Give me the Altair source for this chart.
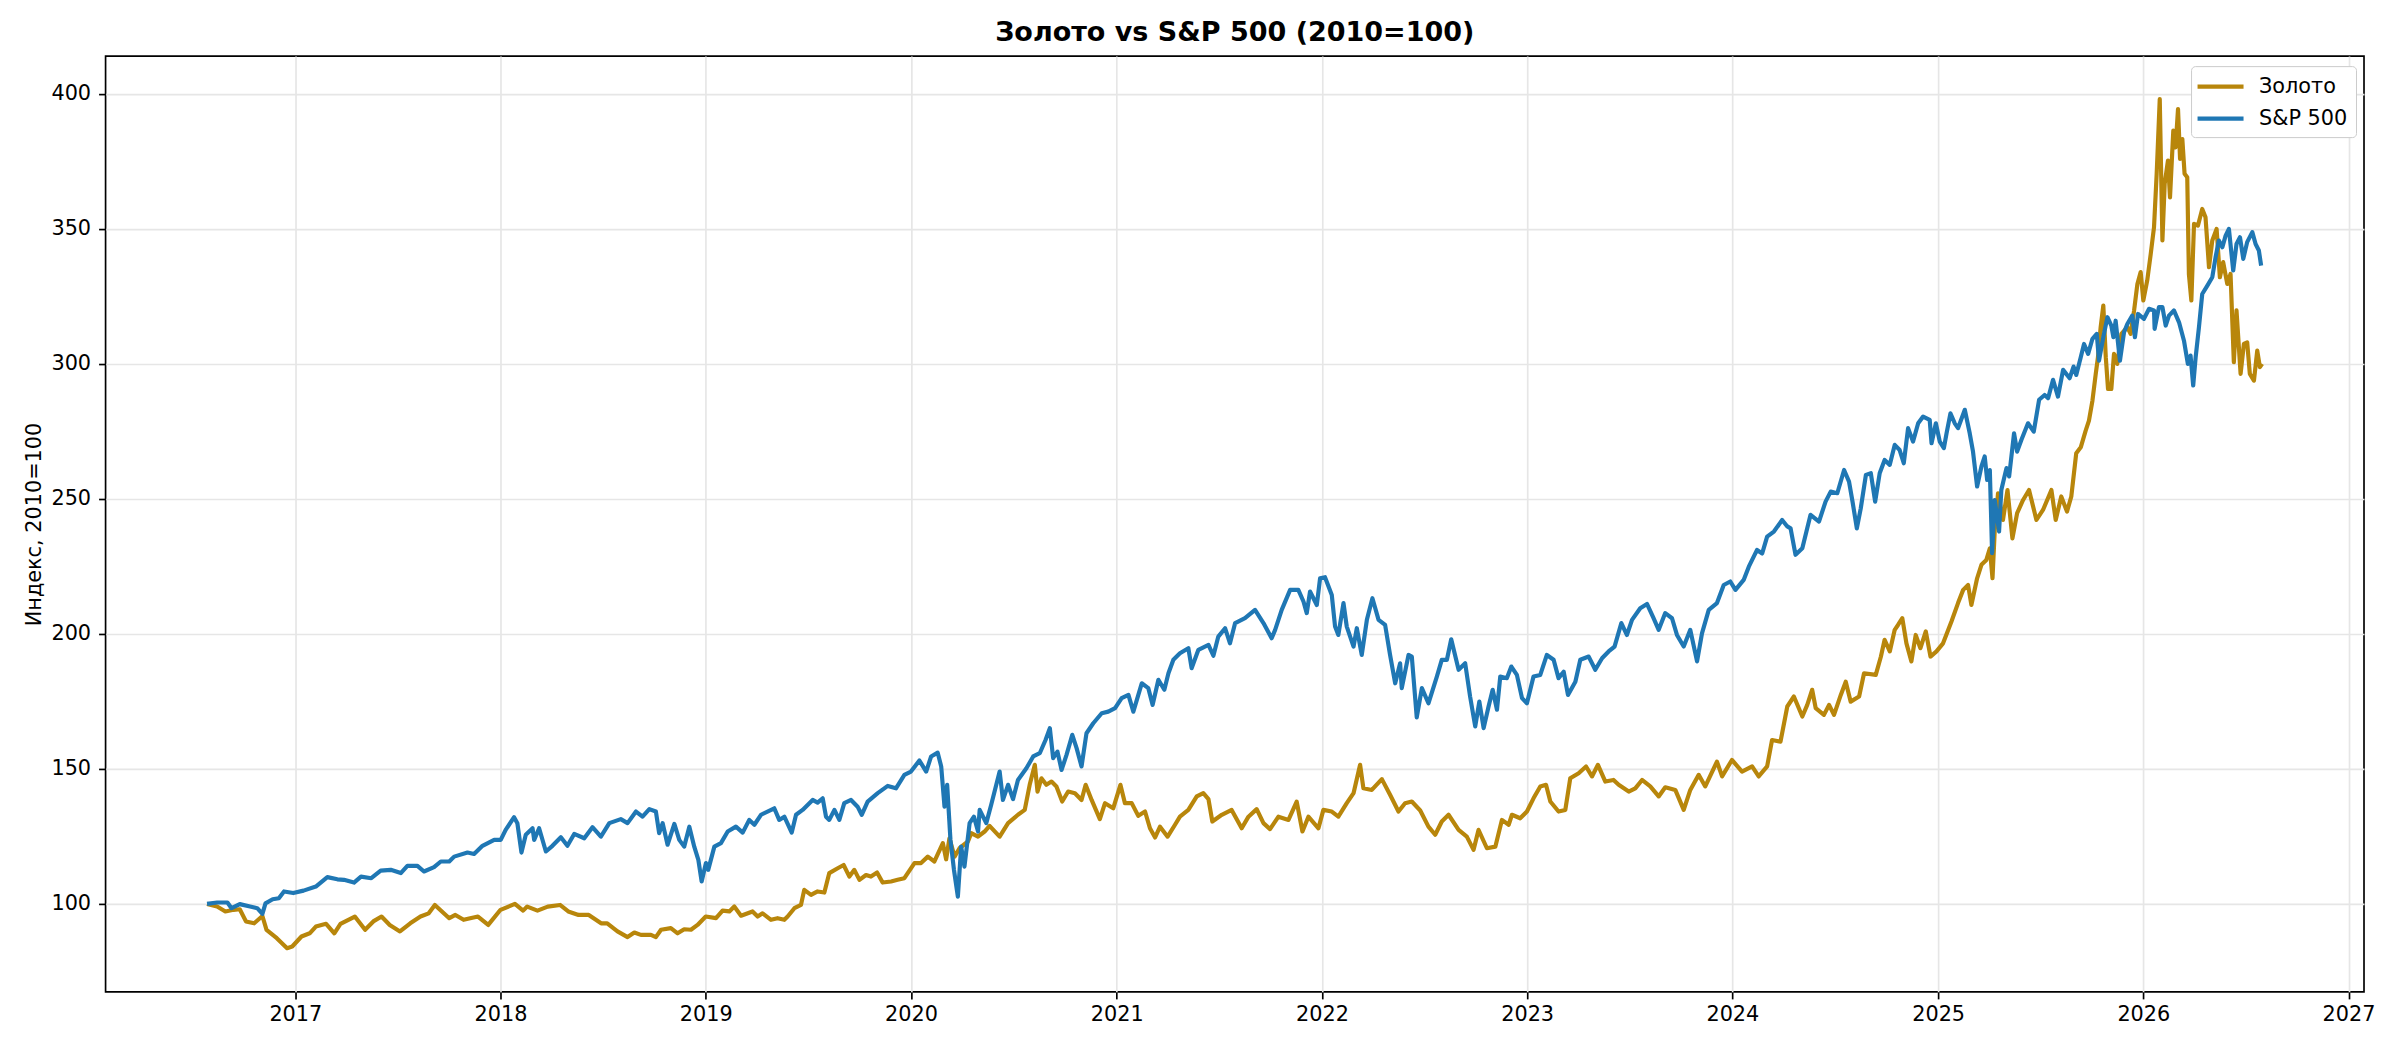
import datetime as dt
import altair as alt
import pandas as pd

TITLE = "Золото vs S&P 500 (2010=100)"
Y_TITLE = "Индекс, 2010=100"
SERIES = ["Золото", "S&P 500"]
COLORS = ["#B8860B", "#1f77b4"]
Y_TICKS = [100, 150, 200, 250, 300, 350, 400]
YEAR_TICKS = list(range(2017, 2028))

# (decimal year, index value)
gold_points = [
    (2016.571, 100.0), (2016.62, 99.0), (2016.66, 97.2), (2016.70, 97.8), (2016.73, 98.0), (2016.76, 93.5),
    (2016.80, 92.8), (2016.84, 95.5), (2016.86, 90.4), (2016.91, 87.3), (2016.96, 83.6), (2016.985, 84.2),
    (2017.03, 87.9), (2017.07, 89.1), (2017.10, 91.6), (2017.15, 92.6), (2017.19, 89.1), (2017.22, 92.6),
    (2017.29, 95.3), (2017.34, 90.4), (2017.38, 93.5), (2017.42, 95.3), (2017.46, 92.2), (2017.51, 89.8),
    (2017.56, 92.8), (2017.61, 95.3), (2017.65, 96.5), (2017.68, 99.6), (2017.75, 94.7), (2017.78, 95.9),
    (2017.82, 94.1), (2017.89, 95.3), (2017.94, 92.2), (2018.00, 97.8), (2018.07, 100.0), (2018.11, 97.5),
    (2018.13, 99.0), (2018.18, 97.5), (2018.23, 99.0), (2018.29, 99.6), (2018.33, 97.2), (2018.38, 95.9),
    (2018.43, 95.9), (2018.49, 92.8), (2018.52, 92.8), (2018.57, 89.8),
    (2018.619, 87.7), (2018.652, 89.4), (2018.684, 88.5), (2018.733, 88.5), (2018.757, 87.7), (2018.782, 90.4),
    (2018.83, 91.0), (2018.863, 89.1), (2018.895, 90.6), (2018.928, 90.4), (2018.96, 92.2), (2019.0, 95.3),
    (2019.05, 94.7), (2019.082, 97.5), (2019.115, 97.2), (2019.139, 99.0), (2019.172, 95.6), (2019.228, 97.2),
    (2019.253, 95.3), (2019.277, 96.5), (2019.318, 94.1), (2019.35, 94.7), (2019.383, 94.1), (2019.399, 95.3),
    (2019.432, 98.4), (2019.464, 99.6), (2019.48, 105.2), (2019.513, 103.3), (2019.545, 104.6), (2019.578, 104.2),
    (2019.602, 111.4), (2019.643, 113.2), (2019.672, 114.4), (2019.7, 110.1), (2019.724, 112.6), (2019.749, 108.9),
    (2019.781, 110.7), (2019.805, 110.1), (2019.835, 111.6), (2019.862, 107.9), (2019.903, 108.3), (2019.935, 108.9),
    (2019.968, 109.5), (2020.017, 115.1), (2020.049, 115.1), (2020.082, 117.5), (2020.114, 115.7), (2020.155, 122.5),
    (2020.171, 116.5), (2020.187, 124.3), (2020.212, 117.5), (2020.236, 120.6), (2020.277, 123.1), (2020.293, 126.2),
    (2020.326, 124.9), (2020.358, 126.8), (2020.382, 128.9), (2020.431, 124.9), (2020.472, 129.9), (2020.52, 133.0),
    (2020.553, 134.8), (2020.577, 144.1), (2020.602, 151.5), (2020.615, 141.6),
    (2020.634, 146.5), (2020.658, 144.1), (2020.683, 145.3), (2020.707, 143.5), (2020.735, 137.9), (2020.764, 141.6),
    (2020.797, 141.0), (2020.829, 138.5), (2020.849, 144.1), (2020.878, 138.5), (2020.918, 131.4), (2020.943, 137.3),
    (2020.983, 135.4), (2021.018, 144.1), (2021.04, 137.3), (2021.073, 137.3), (2021.105, 132.6), (2021.138, 134.2),
    (2021.162, 128.0), (2021.187, 124.6), (2021.211, 128.6), (2021.248, 124.9), (2021.284, 129.3), (2021.308, 132.3),
    (2021.349, 134.8), (2021.39, 139.8), (2021.422, 141.0), (2021.447, 138.8), (2021.466, 130.5), (2021.512, 133.0),
    (2021.56, 134.8), (2021.609, 128.0), (2021.642, 132.3), (2021.682, 135.1), (2021.715, 129.9), (2021.747, 127.7),
    (2021.788, 132.3), (2021.837, 131.1), (2021.877, 137.9), (2021.905, 126.8), (2021.934, 132.3), (2021.983, 128.0),
    (2022.007, 134.8), (2022.048, 134.2), (2022.08, 132.3), (2022.121, 137.3), (2022.154, 141.0), (2022.186, 151.5),
    (2022.202, 142.8), (2022.243, 142.2), (2022.292, 146.2), (2022.332, 140.4), (2022.373, 134.2), (2022.405, 137.3),
    (2022.438, 137.9), (2022.479, 134.6), (2022.519, 128.6), (2022.552, 125.6), (2022.584, 130.5), (2022.617, 133.0),
    (2022.666, 127.4), (2022.706, 124.9), (2022.739, 120.0), (2022.763, 127.4),
    (2022.804, 120.6), (2022.845, 121.2), (2022.877, 131.1), (2022.91, 129.3), (2022.926, 133.0), (2022.966, 131.7),
    (2022.999, 134.2), (2023.031, 139.1), (2023.064, 143.5), (2023.092, 144.1), (2023.113, 137.9), (2023.153, 134.2),
    (2023.186, 134.8), (2023.21, 146.5), (2023.251, 148.4), (2023.287, 150.9), (2023.316, 147.2), (2023.345, 151.5),
    (2023.381, 145.3), (2023.421, 145.9), (2023.446, 144.1), (2023.495, 141.6), (2023.527, 142.8), (2023.56, 145.9),
    (2023.6, 143.5), (2023.641, 139.8), (2023.673, 143.2), (2023.722, 142.2), (2023.763, 134.8), (2023.795, 142.2),
    (2023.836, 147.8), (2023.868, 143.5), (2023.925, 152.7), (2023.95, 147.2), (2023.998, 153.3), (2024.047, 149.0),
    (2024.096, 150.9), (2024.128, 147.2), (2024.169, 150.9), (2024.193, 160.7), (2024.234, 160.1), (2024.267, 173.1),
    (2024.299, 176.8), (2024.34, 169.4), (2024.364, 173.7), (2024.388, 179.3), (2024.405, 172.5), (2024.445, 170.0),
    (2024.47, 173.7), (2024.494, 170.0), (2024.527, 177.4), (2024.551, 182.3), (2024.575, 174.9), (2024.616, 176.8),
    (2024.64, 185.4), (2024.697, 184.8), (2024.722, 191.6),
    (2024.74, 197.8), (2024.765, 193.5), (2024.789, 201.5), (2024.805, 203.3), (2024.826, 205.8), (2024.846, 196.5),
    (2024.87, 189.8), (2024.891, 199.6), (2024.914, 194.7), (2024.94, 200.9), (2024.963, 191.6), (2024.992, 193.5),
    (2025.024, 196.5), (2025.065, 204.6), (2025.097, 211.4), (2025.122, 216.3), (2025.146, 218.1), (2025.162, 210.7),
    (2025.19, 220.6), (2025.211, 225.6), (2025.235, 227.4), (2025.252, 231.7), (2025.265, 220.6), (2025.276, 238.5),
    (2025.292, 252.1), (2025.316, 242.2), (2025.338, 253.3), (2025.362, 235.4), (2025.385, 244.7), (2025.414, 249.6),
    (2025.443, 253.3), (2025.479, 242.2), (2025.511, 245.9), (2025.552, 253.3), (2025.573, 242.2), (2025.6, 250.9),
    (2025.628, 245.3), (2025.649, 250.9), (2025.673, 266.9),
    (2025.695, 269.1), (2025.719, 275.3), (2025.735, 279.0), (2025.752, 286.4), (2025.768, 296.3), (2025.779, 302.5),
    (2025.792, 313.6), (2025.805, 321.6), (2025.817, 302.5), (2025.828, 290.7), (2025.844, 290.7), (2025.857, 303.7),
    (2025.873, 300.0), (2025.893, 311.1), (2025.922, 313.6), (2025.938, 311.1), (2025.955, 319.8), (2025.971, 329.6),
    (2025.987, 334.0), (2026.0, 323.5), (2026.019, 330.9), (2026.036, 340.7), (2026.052, 350.6), (2026.065, 370.4),
    (2026.08, 398.1), (2026.093, 345.7), (2026.104, 366.7), (2026.12, 375.3), (2026.13, 361.7), (2026.146, 386.4),
    (2026.157, 380.2), (2026.169, 394.4), (2026.179, 375.9), (2026.19, 383.3), (2026.201, 370.4), (2026.214, 369.1),
    (2026.222, 333.3), (2026.234, 323.5), (2026.247, 351.9), (2026.266, 351.2), (2026.287, 357.4), (2026.303, 354.3),
    (2026.32, 335.8), (2026.336, 345.7), (2026.357, 350.0), (2026.373, 332.1), (2026.389, 337.7), (2026.409, 329.6),
    (2026.425, 333.3), (2026.441, 300.6), (2026.454, 319.8), (2026.474, 296.3), (2026.49, 307.4), (2026.506, 308.0),
    (2026.519, 296.3), (2026.539, 293.8), (2026.555, 304.9), (2026.568, 298.8), (2026.579, 300.0),
]

sp_points = [
    (2016.571, 100.0), (2016.62, 100.5), (2016.67, 100.5), (2016.69, 98.4), (2016.73, 99.9), (2016.78, 99.0),
    (2016.815, 98.4), (2016.84, 96.3), (2016.855, 100.2), (2016.89, 101.7), (2016.92, 102.1), (2016.945, 104.6),
    (2016.99, 104.0), (2017.04, 104.9), (2017.10, 106.4), (2017.156, 109.9), (2017.205, 109.1), (2017.237, 108.9),
    (2017.286, 107.9), (2017.32, 110.1), (2017.37, 109.5), (2017.416, 112.3), (2017.465, 112.6), (2017.514, 111.4),
    (2017.546, 114.1), (2017.595, 114.1), (2017.627, 112.0), (2017.676, 113.6), (2017.709, 115.7), (2017.75, 115.7),
    (2017.774, 117.5), (2017.839, 119.0), (2017.871, 118.5), (2017.912, 121.5), (2017.969, 123.7), (2018.001, 123.7),
    (2018.025, 127.4), (2018.066, 132.1), (2018.082, 129.9), (2018.102, 119.0), (2018.123, 125.6), (2018.156, 128.0),
    (2018.164, 123.7), (2018.188, 128.0), (2018.221, 119.4), (2018.253, 121.5), (2018.294, 124.7), (2018.326, 121.5),
    (2018.359, 125.9), (2018.408, 124.3), (2018.448, 128.4), (2018.489, 124.9), (2018.53, 129.9), (2018.586, 131.4),
    (2018.619, 129.9), (2018.66, 134.2), (2018.692, 132.3), (2018.725, 135.1), (2018.757, 134.2), (2018.773, 126.2),
    (2018.79, 129.9), (2018.814, 121.9), (2018.847, 129.6), (2018.871, 123.7), (2018.895, 121.2), (2018.92, 128.6),
    (2018.944, 121.2), (2018.964, 116.3), (2018.98, 108.3), (2019.001, 115.1), (2019.012, 112.6), (2019.042, 121.2),
    (2019.074, 122.5), (2019.107, 126.8), (2019.147, 128.6), (2019.18, 126.4), (2019.212, 131.1), (2019.237, 129.3),
    (2019.269, 133.0), (2019.334, 135.4), (2019.358, 131.1), (2019.383, 132.3), (2019.419, 126.4), (2019.44, 133.0),
    (2019.472, 134.8), (2019.521, 138.5), (2019.545, 137.5), (2019.57, 139.1), (2019.586, 132.3), (2019.602, 131.1),
    (2019.627, 134.8), (2019.651, 131.1), (2019.675, 137.3), (2019.708, 138.5), (2019.74, 136.0), (2019.76, 133.0),
    (2019.789, 137.9), (2019.838, 141.0), (2019.887, 143.7), (2019.927, 142.8), (2019.968, 147.8), (2020.0, 149.0),
    (2020.041, 153.1), (2020.074, 149.0), (2020.098, 154.6), (2020.13, 156.0), (2020.147, 150.9), (2020.163, 136.0),
    (2020.176, 144.1), (2020.192, 123.7), (2020.209, 112.6), (2020.228, 102.7), (2020.244, 121.2), (2020.26, 113.8),
    (2020.285, 129.9), (2020.306, 132.3), (2020.326, 126.8), (2020.334, 134.8), (2020.366, 129.9), (2020.39, 136.7),
    (2020.431, 149.0), (2020.447, 138.5), (2020.472, 144.1), (2020.496, 138.8), (2020.52, 145.9), (2020.561, 150.2),
    (2020.594, 154.6), (2020.626, 155.8),
    (2020.654, 160.7), (2020.675, 165.1), (2020.691, 154.0), (2020.712, 156.4), (2020.732, 149.6), (2020.756, 155.2),
    (2020.784, 162.6), (2020.805, 157.7), (2020.829, 150.9), (2020.853, 163.2), (2020.886, 166.9), (2020.927, 170.6),
    (2020.959, 171.2), (2020.992, 172.5), (2021.024, 176.2), (2021.057, 177.4), (2021.081, 171.2), (2021.122, 181.7),
    (2021.154, 179.9), (2021.175, 173.7), (2021.203, 183.0), (2021.232, 179.3), (2021.252, 185.4), (2021.276, 190.4),
    (2021.308, 192.8), (2021.349, 194.7), (2021.365, 187.3), (2021.398, 194.1), (2021.447, 195.9), (2021.471, 191.9),
    (2021.495, 199.0), (2021.528, 202.1), (2021.552, 196.5), (2021.577, 204.0), (2021.625, 205.8), (2021.674, 208.9),
    (2021.715, 204.0), (2021.755, 198.4), (2021.772, 201.5), (2021.804, 208.9), (2021.845, 216.3), (2021.885, 216.3),
    (2021.91, 212.0), (2021.926, 207.7), (2021.942, 215.7), (2021.975, 210.7), (2021.991, 220.6), (2022.015, 221.0),
    (2022.048, 214.4), (2022.064, 202.7), (2022.08, 199.6), (2022.105, 211.4), (2022.121, 202.7), (2022.154, 195.3),
    (2022.17, 202.1), (2022.194, 192.2), (2022.219, 205.2), (2022.246, 213.2), (2022.276, 205.2), (2022.308, 203.3),
    (2022.332, 192.2), (2022.357, 181.7), (2022.381, 189.1), (2022.389, 179.9), (2022.422, 192.2), (2022.438, 191.6),
    (2022.462, 169.1), (2022.487, 179.9), (2022.519, 174.3), (2022.56, 184.2), (2022.584, 190.4), (2022.609, 190.4),
    (2022.63, 198.0), (2022.666, 186.7), (2022.698, 189.1), (2022.722, 176.8), (2022.747, 165.7),
    (2022.767, 174.9), (2022.788, 165.1), (2022.812, 173.1), (2022.832, 179.3), (2022.853, 171.9), (2022.869, 184.2),
    (2022.901, 183.6), (2022.923, 187.9), (2022.95, 184.8), (2022.975, 176.2), (2022.999, 174.3), (2023.031, 184.2),
    (2023.064, 184.8), (2023.096, 192.2), (2023.129, 190.4), (2023.153, 183.6), (2023.178, 186.0), (2023.199, 177.4),
    (2023.235, 182.3), (2023.259, 190.4), (2023.3, 191.6), (2023.332, 186.7), (2023.365, 191.0), (2023.397, 193.5),
    (2023.426, 195.3), (2023.459, 204.0), (2023.486, 199.6), (2023.511, 205.2), (2023.551, 209.5), (2023.584, 211.1),
    (2023.616, 205.8), (2023.641, 201.5), (2023.673, 207.7), (2023.706, 205.8), (2023.73, 199.6), (2023.763, 195.3),
    (2023.795, 201.5), (2023.828, 189.8), (2023.852, 200.2), (2023.885, 208.9), (2023.925, 211.4), (2023.958, 218.1),
    (2023.99, 219.4), (2024.015, 216.3), (2024.055, 220.0), (2024.08, 224.9), (2024.12, 231.1), (2024.145, 229.8),
    (2024.169, 236.0), (2024.202, 237.9), (2024.242, 242.2), (2024.267, 239.8), (2024.283, 239.1), (2024.307, 229.3),
    (2024.34, 231.7), (2024.38, 244.1), (2024.421, 241.6), (2024.453, 249.0), (2024.478, 252.7), (2024.51, 252.1),
    (2024.543, 260.7), (2024.567, 256.4), (2024.584, 249.0), (2024.605, 239.1), (2024.624, 246.5), (2024.649, 258.9),
    (2024.673, 259.5), (2024.694, 249.0),
    (2024.716, 259.5), (2024.74, 264.4), (2024.765, 262.6), (2024.789, 270.0), (2024.813, 268.1), (2024.833, 263.2),
    (2024.854, 276.2), (2024.878, 271.2), (2024.903, 278.0), (2024.927, 280.5), (2024.959, 279.3), (2024.968, 270.6),
    (2024.989, 278.0), (2025.008, 271.2), (2025.028, 268.8), (2025.041, 274.3), (2025.06, 281.7), (2025.081, 278.0),
    (2025.097, 276.2), (2025.13, 283.0), (2025.154, 274.3), (2025.17, 267.5), (2025.19, 254.6), (2025.211, 262.0),
    (2025.227, 265.7), (2025.239, 257.0), (2025.252, 260.7), (2025.263, 229.9), (2025.276, 249.6), (2025.297, 237.9),
    (2025.308, 253.3), (2025.333, 261.4), (2025.346, 258.3), (2025.37, 274.3), (2025.385, 267.5), (2025.406, 271.9),
    (2025.438, 278.0), (2025.466, 274.9), (2025.492, 286.7), (2025.519, 288.5), (2025.536, 287.3), (2025.56, 294.1),
    (2025.584, 287.9), (2025.609, 297.8), (2025.641, 294.7), (2025.66, 299.0), (2025.673, 295.9),
    (2025.695, 302.5), (2025.711, 307.4), (2025.731, 303.7), (2025.752, 309.3), (2025.773, 311.1), (2025.784, 301.2),
    (2025.805, 309.9), (2025.825, 317.3), (2025.844, 314.2), (2025.854, 309.9), (2025.865, 316.0), (2025.886, 301.2),
    (2025.906, 311.7), (2025.922, 314.8), (2025.946, 317.9), (2025.959, 309.9), (2025.974, 318.5), (2026.003, 316.7),
    (2026.028, 320.4), (2026.052, 319.8), (2026.055, 313.0), (2026.076, 321.0), (2026.093, 321.0), (2026.109, 314.2),
    (2026.125, 317.9), (2026.149, 319.8), (2026.174, 315.4), (2026.198, 308.6), (2026.217, 300.0), (2026.23, 303.1),
    (2026.243, 292.0), (2026.255, 302.5), (2026.271, 313.6), (2026.287, 325.9), (2026.312, 329.0), (2026.336, 332.1),
    (2026.352, 339.5), (2026.368, 345.7), (2026.385, 343.2), (2026.401, 347.5), (2026.417, 350.0), (2026.438, 334.6),
    (2026.454, 344.4), (2026.471, 346.9), (2026.487, 338.9), (2026.506, 345.1), (2026.531, 348.8), (2026.547, 344.4),
    (2026.563, 342.0), (2026.574, 336.4),
]

UTC = dt.timezone.utc


def year_to_ms(t):
    y = int(t)
    start = dt.datetime(y, 1, 1, tzinfo=UTC)
    end = dt.datetime(y + 1, 1, 1, tzinfo=UTC)
    d = start + (end - start) * (t - y)
    return d.timestamp() * 1000.0


def date_ms(y, m, d, h=0):
    return dt.datetime(y, m, d, h, tzinfo=UTC).timestamp() * 1000.0


rows = []
for t, v in gold_points:
    rows.append({"date": year_to_ms(t), "value": v, "series": SERIES[0]})
for t, v in sp_points:
    rows.append({"date": year_to_ms(t), "value": v, "series": SERIES[1]})
df = pd.DataFrame(rows)

X_DOMAIN = [date_ms(2016, 1, 29, 12), date_ms(2027, 1, 28, 12)]
Y_DOMAIN = [67.4, 414.0]
FONT = "DejaVu Sans"
LINE_W = 4.17

color = alt.Color(
    "series:N",
    scale=alt.Scale(domain=SERIES, range=COLORS),
    legend=alt.Legend(
        title=None,
        orient="none",
        legendX=2086,
        legendY=10,
        direction="vertical",
        symbolType="M-1.4,0L3.2,0",
        symbolSize=400,
        symbolStrokeWidth=LINE_W,
        labelFont=FONT,
        labelFontSize=20.8,
        labelColor="black",
        labelOffset=35,
        rowPadding=9,
        padding=8,
        strokeColor="#cccccc",
        fillColor="white",
        cornerRadius=4,
    ),
)

base = alt.Chart(df).encode(
    x=alt.X(
        "date:T",
        scale=alt.Scale(type="utc", domain=X_DOMAIN, nice=False),
        axis=alt.Axis(
            values=[date_ms(y, 1, 1) for y in YEAR_TICKS],
            format="%Y",
            title=None,
            labelPadding=6,
        ),
    ),
    y=alt.Y(
        "value:Q",
        scale=alt.Scale(domain=Y_DOMAIN, nice=False, zero=False),
        axis=alt.Axis(
            values=Y_TICKS,
            title=Y_TITLE,
            labelPadding=8,
            titleX=-65,
            titleY=468,
            titleAngle=270,
            titleAlign="center",
            titleBaseline="alphabetic",
            titleFont=FONT,
            titleFontSize=20.8,
            titleFontWeight="normal",
            titleColor="black",
        ),
    ),
    color=color,
)

gold = base.transform_filter(alt.FieldEqualPredicate(field="series", equal=SERIES[0])).mark_line(
    strokeWidth=LINE_W, strokeJoin="round", strokeCap="butt"
)
sp = base.transform_filter(alt.FieldEqualPredicate(field="series", equal=SERIES[1])).mark_line(
    strokeWidth=LINE_W, strokeJoin="round", strokeCap="butt"
)

chart = (
    alt.layer(gold, sp)
    .properties(
        width=2259,
        height=936,
        title=alt.TitleParams(
            text=TITLE,
            font=FONT,
            fontSize=27,
            fontWeight="bold",
            color="black",
            anchor="middle",
            frame="group",
            baseline="alphabetic",
            offset=12.7,
            dy=25,
        ),
        padding={"left": 97.6, "top": 48, "right": 28, "bottom": 45},
        autosize=alt.AutoSizeParams(type="none"),
    )
    .configure_view(stroke="black", strokeWidth=1.67)
    .configure_axis(
        labelFont=FONT,
        labelFontSize=20.8,
        labelColor="black",
        tickColor="black",
        tickWidth=1.67,
        tickSize=7,
        domain=False,
        grid=True,
        gridColor="#e6e6e6",
        gridWidth=1.67,
    )
)

chart.save("out.html", embed_options={"renderer": "svg", "actions": False})
